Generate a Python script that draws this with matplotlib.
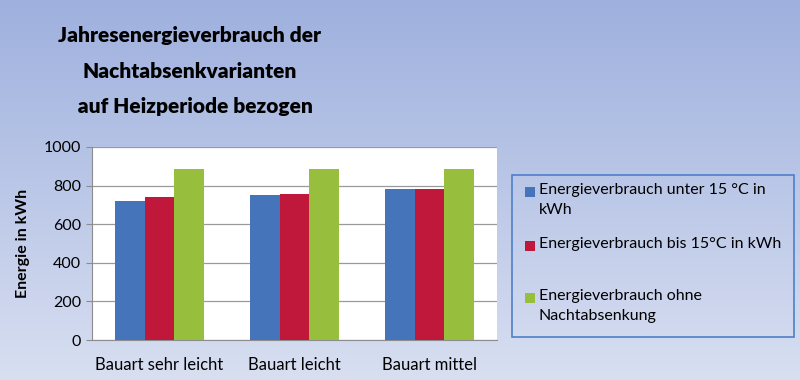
import numpy as np
import matplotlib
matplotlib.use("Agg")
import matplotlib.pyplot as plt
from matplotlib.patches import Rectangle

categories = ["Bauart sehr leicht", "Bauart leicht", "Bauart mittel"]
series_names = ["Energieverbrauch unter 15 °C in\nkWh",
                "Energieverbrauch bis 15°C in kWh",
                "Energieverbrauch ohne\nNachtabsenkung"]
unter_15 = [720, 751, 781]
bis_15 = [742, 756, 781]
ohne = [884, 884, 884]
yticks = [0, 200, 400, 600, 800, 1000]
title = "Jahresenergieverbrauch der\nNachtabsenkvarianten\n  auf Heizperiode bezogen"
ylabel = "Energie in kWh"

colors = ["#4674BA", "#C0183A", "#97BE3C"]

fig = plt.figure(figsize=(8, 3.8), dpi=100)

# gradient background
bg = fig.add_axes([0, 0, 1, 1], zorder=-10)
top = np.array([158, 176, 222]) / 255
bot = np.array([216, 223, 241]) / 255
t = np.linspace(0, 1, 256)[:, None]
grad = (top[None, :] * (1 - t) + bot[None, :] * t)
bg.imshow(grad[:, None, :].repeat(2, axis=1), aspect="auto", extent=[0, 1, 0, 1])
bg.set_axis_off()

ax = fig.add_axes([92/800, 40/380, (497-92)/800, (340-147)/380])
ax.set_facecolor("white")
x = np.arange(len(categories))
w = 0.22
for i, (vals, c) in enumerate(zip([unter_15, bis_15, ohne], colors)):
    ax.bar(x + (i - 1) * w, vals, width=w, color=c, zorder=3)

ax.set_xlim(-0.5, len(categories) - 0.5)
ax.set_ylim(0, 1000)
ax.set_yticks(yticks)
ax.set_xticks(x)
ax.set_xticklabels(categories, fontsize=12, family="Lato")
for lab in ax.get_yticklabels():
    lab.set_family("Lato")
    lab.set_fontsize(11.5)
ax.yaxis.grid(True, color="#9A9A9A", linewidth=0.9, zorder=0)
for s in ["top", "right"]:
    ax.spines[s].set_visible(False)
ax.spines["left"].set_color("#8C8C8C")
ax.spines["bottom"].set_color("#8C8C8C")
ax.tick_params(axis="y", length=4, color="#8C8C8C", pad=4)
ax.tick_params(axis="x", length=0, pad=12)
ax.set_ylabel(ylabel, fontsize=11.5, fontweight="bold", family="Lato", labelpad=10)

fig.text(190/800, 1 - 71/380, title, ha="center", va="center",
         fontsize=15, fontweight="heavy", family="Lato",
         linespacing=2.05)

# legend box
fig.patches.append(Rectangle((512/800, 1 - 337/380), (794-512)/800, (337-175)/380,
                             transform=fig.transFigure, facecolor="none",
                             edgecolor="#4F7FC8", linewidth=1.2))
ys = [192, 246, 298]
for name, c, yy in zip(series_names, colors, ys):
    fig.patches.append(Rectangle((525/800, 1 - (yy + 5)/380), 10/800, 10/380,
                                 transform=fig.transFigure, facecolor=c, edgecolor="none"))
    fig.text(539/800, 1 - (yy - 9)/380, name, ha="left", va="top",
             fontsize=11.5, family="Lato", linespacing=1.55)

fig.savefig("out.png", dpi=100)
